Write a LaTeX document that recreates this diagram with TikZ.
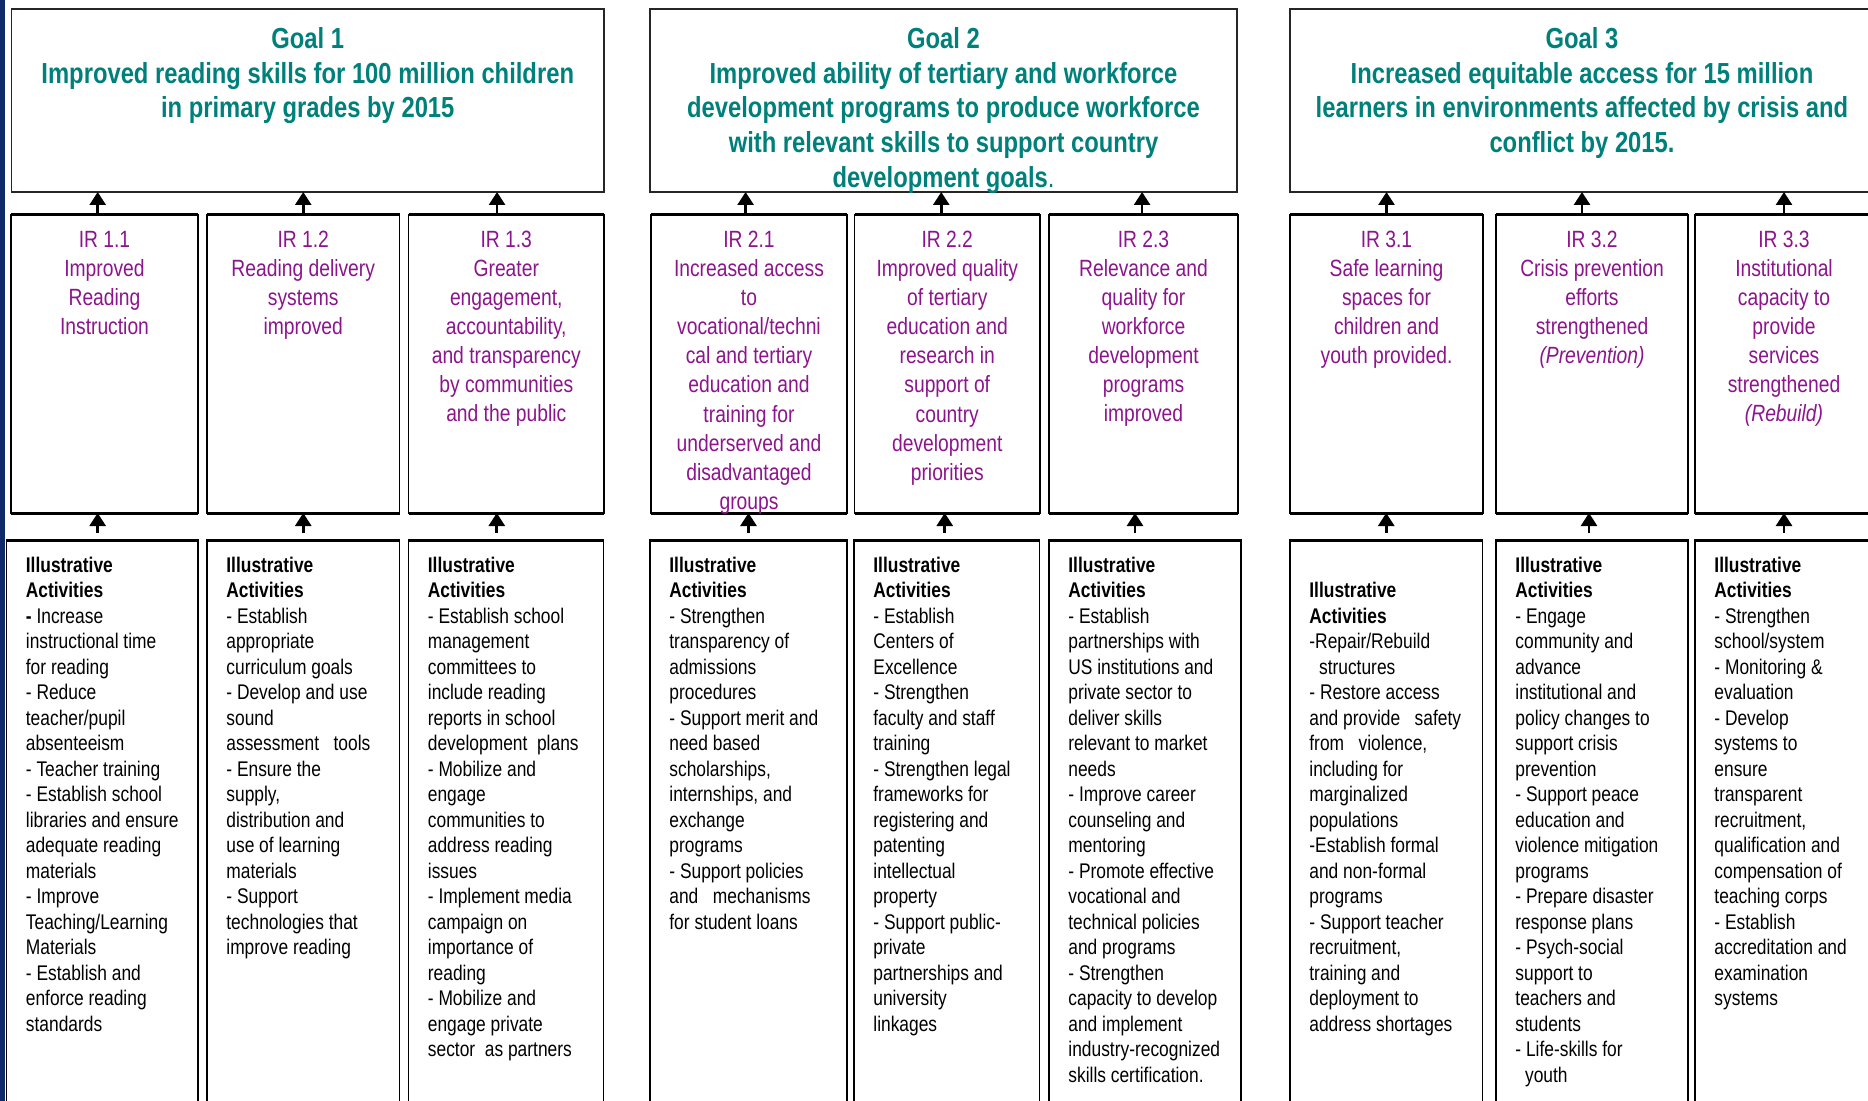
\documentclass[tikz,border=0pt]{standalone}
\usepackage{fontspec}
\setmainfont{Liberation Sans}[FakeStretch=0.82]
\usetikzlibrary{positioning, arrows.meta}
\definecolor{goalteal}{RGB}{0,128,122}
\definecolor{irpurple}{RGB}{140,20,140}
\definecolor{sidenavy}{RGB}{14,42,104}
\tikzset{
  goalbox/.style={draw=black!85, line width=0.75pt, inner sep=0pt, outer sep=0pt, anchor=north west, minimum height=91.5pt},
  irbox/.style={draw, line width=0.65pt, inner sep=0pt, outer sep=0pt, anchor=north west, minimum height=149pt},
  actbox/.style={draw, line width=0.65pt, inner sep=0pt, outer sep=0pt, anchor=north west, minimum height=290pt},
  thickrule/.style={line width=1.5pt},
  goaltext/.style={text=goalteal, font=\fontsize{14.5pt}{17.4pt}\selectfont\bfseries, align=center, inner sep=0pt},
  irtext/.style={text=irpurple, font=\fontsize{11.75pt}{14.55pt}\selectfont, align=center, inner sep=0pt},
  acttext/.style={font=\fontsize{10.6pt}{12.75pt}\selectfont, align=left, inner sep=0pt},
  uparrow/.style={-{Triangle[length=6.5pt,width=8pt]}, line width=1.35pt}
}

\begin{document}
\begin{tikzpicture}[x=0.5pt, y=-0.5pt]
\useasboundingbox (0,0) rectangle (1868,1101);
\clip (0,0) rectangle (1868,1101);
\fill[sidenavy] (0,0) rectangle (5,1101);

% goal boxes
\node[goalbox, minimum width=296.25pt] (goal1) at (11.5,9) {};
\node[goalbox, minimum width=293.5pt] (goal2) at (650,9) {};
\node[goalbox, minimum width=292pt] (goal3) at (1290,9) {};

% intermediate results
\node[irbox, minimum width=93.5pt] (ir11) at (11,215) {};
\node[irbox, minimum width=96.25pt] (ir12) at (207,215) {};
\node[irbox, minimum width=97.75pt] (ir13) at (408.5,215) {};
\node[irbox, minimum width=98pt] (ir21) at (651,215) {};
\node[irbox, minimum width=92.75pt] (ir22) at (854.5,215) {};
\node[irbox, minimum width=94.5pt] (ir23) at (1049,215) {};
\node[irbox, minimum width=96.5pt] (ir31) at (1290,215) {};
\node[irbox, minimum width=96pt] (ir32) at (1496,215) {};
\node[irbox, minimum width=89pt] (ir33) at (1695,215) {};

% activities
\node[actbox, minimum width=95.75pt] (a11) at (6.5,540) {};
\node[actbox, minimum width=96.25pt] (a12) at (207,540) {};
\node[actbox, minimum width=97.5pt] (a13) at (408.5,540) {};
\node[actbox, minimum width=98.5pt] (a21) at (650,540) {};
\node[actbox, minimum width=92.75pt] (a22) at (854,540) {};
\node[actbox, minimum width=96pt] (a23) at (1049,540) {};
\node[actbox, minimum width=96.25pt] (a31) at (1290,540) {};
\node[actbox, minimum width=96pt] (a32) at (1496,540) {};
\node[actbox, minimum width=89pt] (a33) at (1695,540) {};

\foreach \n in {ir11,ir12,ir13,ir21,ir22,ir23,ir31,ir32,ir33,a11,a12,a13,a21,a22,a23,a31,a32,a33}
  \draw[thickrule] (\n.north west) -- (\n.north east) (\n.south west) -- (\n.south east);

% goal texts
\node[goaltext, below=7pt of goal1.north] (g1text) {\rule{0pt}{12.5pt}Goal 1\\Improved reading skills for 100 million children\\in primary grades by 2015};
\node[goaltext, below=7pt of goal2.north] (g2text) {\rule{0pt}{12.5pt}Goal 2\\Improved ability of tertiary and workforce\\development programs to produce workforce\\with relevant skills to support country\\development goals{\mdseries .}};
\node[goaltext, below=7pt of goal3.north] (g3text) {\rule{0pt}{12.5pt}Goal 3\\Increased equitable access for 15 million\\learners in environments affected by crisis and\\conflict by 2015.};

% IR texts
\node[irtext, below=6pt of ir11.north] (t11) {\rule{0pt}{10pt}IR 1.1\\Improved\\Reading\\Instruction};
\node[irtext, below=6pt of ir12.north] (t12) {\rule{0pt}{10pt}IR 1.2\\Reading delivery\\systems\\improved};
\node[irtext, below=6pt of ir13.north] (t13) {\rule{0pt}{10pt}IR 1.3\\Greater\\engagement,\\accountability,\\and transparency\\by communities\\and the public};
\node[irtext, below=6pt of ir21.north] (t21) {\rule{0pt}{10pt}IR 2.1\\Increased access\\to\\vocational/techni\\cal and tertiary\\education and\\training for\\underserved and\\disadvantaged\\groups};
\node[irtext, below=6pt of ir22.north] (t22) {\rule{0pt}{10pt}IR 2.2\\Improved quality\\of tertiary\\education and\\research in\\support of\\country\\development\\priorities};
\node[irtext, below=6pt of ir23.north] (t23) {\rule{0pt}{10pt}IR 2.3\\Relevance and\\quality for\\workforce\\development\\programs\\improved};
\node[irtext, below=6pt of ir31.north] (t31) {\rule{0pt}{10pt}IR 3.1\\Safe learning\\spaces for\\children and\\youth provided.};
\node[irtext, below=6pt of ir32.north] (t32) {\rule{0pt}{10pt}IR 3.2\\Crisis prevention\\efforts\\strengthened\\\textit{(Prevention)}};
\node[irtext, below=6pt of ir33.north] (t33) {\rule{0pt}{10pt}IR 3.3\\Institutional\\capacity to\\provide\\services\\strengthened\\\textit{(Rebuild)}};

% activity texts
\node[acttext, below right=7.5pt and 9.5pt of a11.north west] (l11) {\rule{0pt}{8.5pt}\textbf{Illustrative}\\\textbf{Activities}\\\textbf{-} Increase\\instructional time\\for reading\\- Reduce\\teacher/pupil\\absenteeism\\- Teacher training\\- Establish school\\libraries and ensure\\adequate reading\\materials\\- Improve\\Teaching/Learning\\Materials\\- Establish and\\enforce reading\\standards};
\node[acttext, below right=7.5pt and 9.5pt of a12.north west] (l12) {\rule{0pt}{8.5pt}\textbf{Illustrative}\\\textbf{Activities}\\- Establish\\appropriate\\curriculum goals\\- Develop and use\\sound\\assessment\ \ \ tools\\- Ensure the\\supply,\\distribution and\\use of learning\\materials\\- Support\\technologies that\\improve reading};
\node[acttext, below right=7.5pt and 9.5pt of a13.north west] (l13) {\rule{0pt}{8.5pt}\textbf{Illustrative}\\\textbf{Activities}\\- Establish school\\management\\committees to\\include reading\\reports in school\\development\ \ plans\\- Mobilize and\\engage\\communities to\\address reading\\issues\\- Implement media\\campaign on\\importance of\\reading\\- Mobilize and\\engage private\\sector\ \ as partners};
\node[acttext, below right=7.5pt and 9.5pt of a21.north west] (l21) {\rule{0pt}{8.5pt}\textbf{Illustrative}\\\textbf{Activities}\\- Strengthen\\transparency of\\admissions\\procedures\\- Support merit and\\need based\\scholarships,\\internships, and\\exchange\\programs\\- Support policies\\and\ \ \ mechanisms\\for student loans};
\node[acttext, below right=7.5pt and 9.5pt of a22.north west] (l22) {\rule{0pt}{8.5pt}\textbf{Illustrative}\\\textbf{Activities}\\- Establish\\Centers of\\Excellence\\- Strengthen\\faculty and staff\\training\\- Strengthen legal\\frameworks for\\registering and\\patenting\\intellectual\\property\\- Support public-\\private\\partnerships and\\university\\linkages};
\node[acttext, below right=7.5pt and 9.5pt of a23.north west] (l23) {\rule{0pt}{8.5pt}\textbf{Illustrative}\\\textbf{Activities}\\- Establish\\partnerships with\\US institutions and\\private sector to\\deliver skills\\relevant to market\\needs\\- Improve career\\counseling and\\mentoring\\- Promote effective\\vocational and\\technical policies\\and programs\\- Strengthen\\capacity to develop\\and implement\\industry-recognized\\skills certification.};
\node[acttext, below right=20.25pt and 9.5pt of a31.north west] (l31) {\rule{0pt}{8.5pt}\textbf{Illustrative}\\\textbf{Activities}\\-Repair/Rebuild\\\ \ structures\\- Restore access\\and provide\ \ \ safety\\from\ \ \ violence,\\including for\\marginalized\\populations\\-Establish formal\\and non-formal\\programs\\- Support teacher\\recruitment,\\training and\\deployment to\\address shortages};
\node[acttext, below right=7.5pt and 9.5pt of a32.north west] (l32) {\rule{0pt}{8.5pt}\textbf{Illustrative}\\\textbf{Activities}\\- Engage\\community and\\advance\\institutional and\\policy changes to\\support crisis\\prevention\\- Support peace\\education and\\violence mitigation\\programs\\- Prepare disaster\\response plans\\- Psych-social\\support to\\teachers and\\students\\- Life-skills for\\\ \ youth};
\node[acttext, below right=7.5pt and 9.5pt of a33.north west] (l33) {\rule{0pt}{8.5pt}\textbf{Illustrative}\\\textbf{Activities}\\- Strengthen\\school/system\\- Monitoring \&\\evaluation\\- Develop\\systems to\\ensure\\transparent\\recruitment,\\qualification and\\compensation of\\teaching corps\\- Establish\\accreditation and\\examination\\systems};

% arrows up to the goals
\foreach \g/\n/\s in {goal1/ir11/-3.4pt, goal1/ir12/0pt, goal1/ir13/-4.6pt, goal2/ir21/-1.7pt, goal2/ir22/-3pt, goal2/ir23/-0.7pt, goal3/ir31/0pt, goal3/ir32/-5pt, goal3/ir33/0pt}
  \draw[uparrow] ([xshift=\s]\n.north) coordinate (s) -- (s |- \g.south);
% arrows up to the results
\foreach \a/\n/\s in {a11/ir11/-2.3pt, a12/ir12/0pt, a13/ir13/-4.6pt, a21/ir21/0pt, a22/ir22/-1pt, a23/ir23/-5pt, a31/ir31/0pt, a32/ir32/-1.5pt, a33/ir33/0pt}
  \draw[uparrow, shorten <=3.5pt] ([xshift=\s]\a.north) coordinate (t) -- (t |- \n.south);
\end{tikzpicture}
\end{document}
